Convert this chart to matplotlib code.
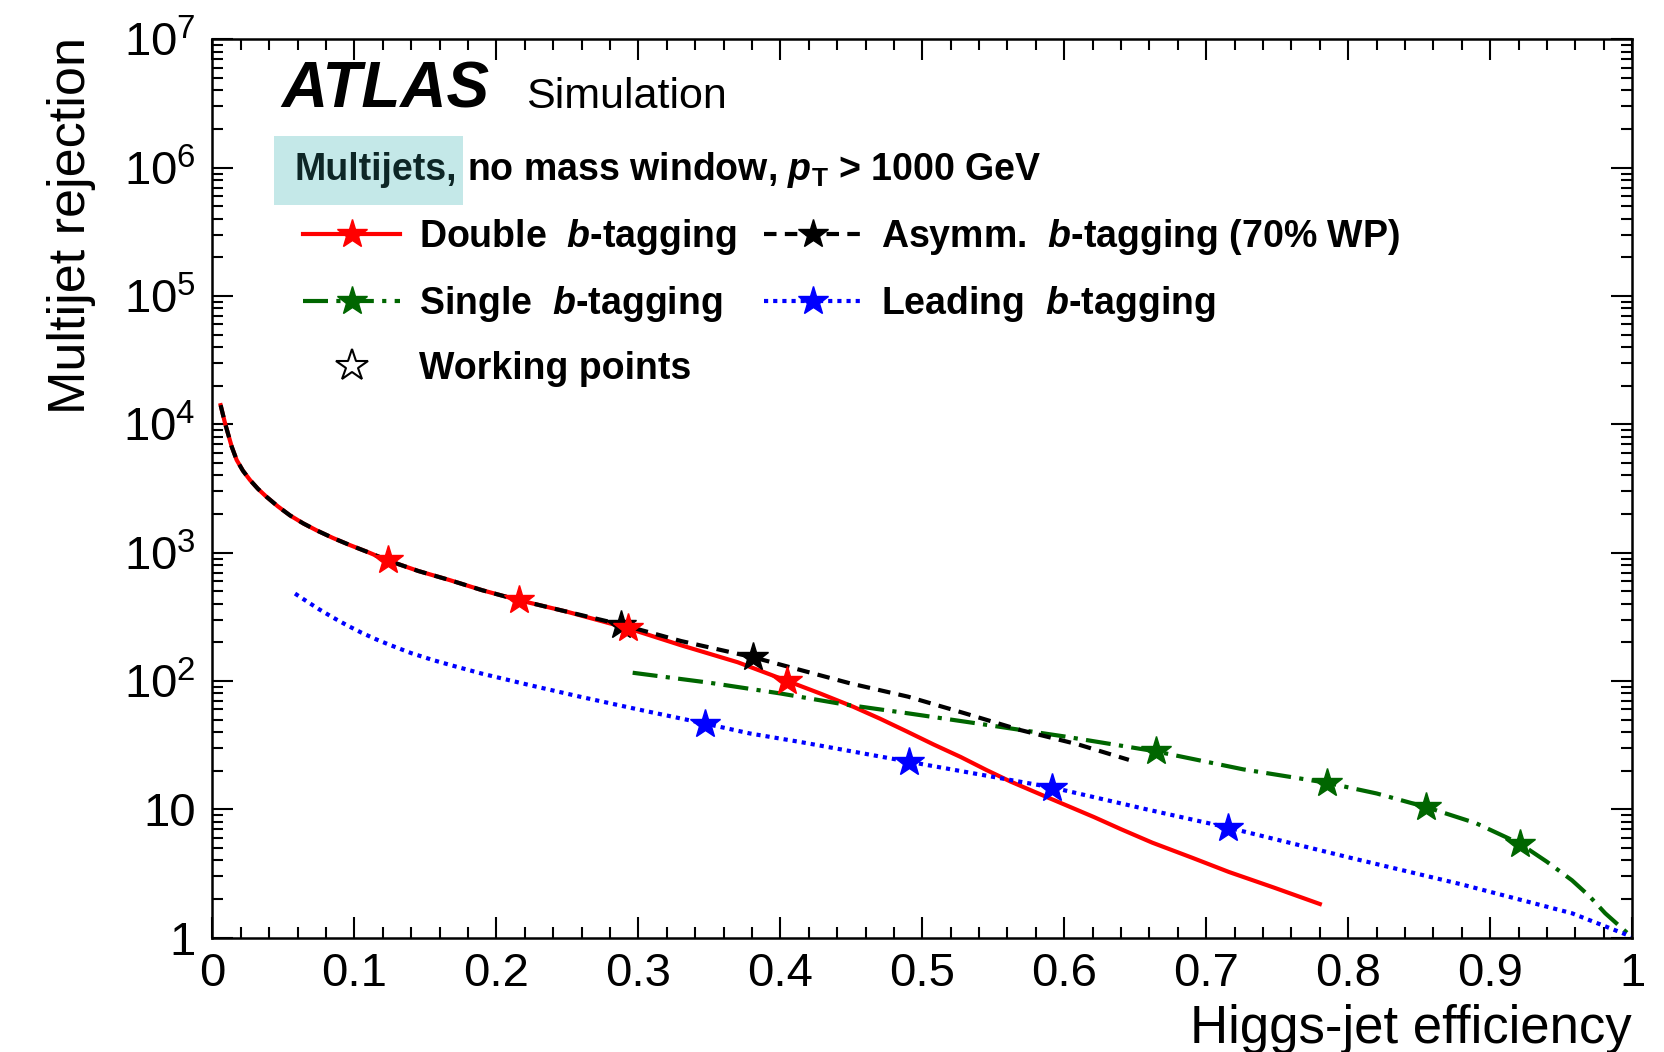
import matplotlib
matplotlib.use('agg')
import matplotlib.pyplot as plt
from matplotlib.lines import Line2D
from matplotlib.patches import Rectangle
from matplotlib.ticker import FixedLocator, MultipleLocator, LogLocator, NullFormatter

plt.rcParams['font.family'] = 'Liberation Sans'
plt.rcParams['mathtext.fontset'] = 'custom'
plt.rcParams['mathtext.rm'] = 'Liberation Sans'
plt.rcParams['mathtext.it'] = 'Liberation Sans:italic'
plt.rcParams['mathtext.bf'] = 'Liberation Sans:bold'
plt.rcParams['mathtext.bfit'] = 'Liberation Sans:italic:bold'

# low-efficiency part, shared by double and asymmetric b-tagging
eff_low = [0.0058, 0.0089, 0.0136, 0.0171, 0.0215, 0.0265, 0.032, 0.038, 0.046, 0.0547,
           0.064, 0.0735, 0.085, 0.0969, 0.11, 0.1235, 0.145, 0.167, 0.19, 0.216,
           0.2496]
rej_low = [14100, 10200, 6700, 5270, 4350, 3680, 3150, 2730, 2300, 1950,
           1690, 1490, 1300, 1145, 1005, 870, 720, 612, 510, 426,
           347]

# double b-tagging
eff_double = eff_low + [0.293, 0.33, 0.37, 0.405, 0.428, 0.4514, 0.47, 0.489, 0.508, 0.527,
                        0.545, 0.562, 0.577, 0.592, 0.621, 0.64, 0.662, 0.69, 0.716, 0.748,
                        0.78]
rej_double = rej_low + [257, 190, 140, 100, 80, 63, 51, 40.5, 32, 25.6,
                        20.3, 16.5, 14, 11.9, 8.7, 7.0, 5.5, 4.2, 3.25, 2.45,
                        1.83]
wp_eff_double = [0.1235, 0.216, 0.293, 0.405]
wp_rej_double = [870, 426, 257, 100]

# asymmetric b-tagging (70% WP)
eff_asymm = eff_low + [0.288, 0.33, 0.381, 0.414, 0.449, 0.49, 0.53, 0.569, 0.61, 0.6455]
rej_asymm = rej_low + [275, 205, 153, 122, 96, 75.5, 56, 41.5, 32, 24.3]
wp_eff_asymm = [0.288, 0.381]
wp_rej_asymm = [275, 153]

# single b-tagging
eff_single = [0.296, 0.35, 0.40, 0.444, 0.49, 0.537, 0.60, 0.6645, 0.726, 0.785,
              0.82, 0.855, 0.89, 0.921, 0.94, 0.9576, 0.97, 0.981, 0.9994]
rej_single = [116, 97, 80, 66, 56, 47, 37, 28.3, 20.5, 16.1,
              13.3, 10.4, 7.8, 5.4, 3.9, 2.8, 2.1, 1.55, 1.02]
wp_eff_single = [0.6645, 0.785, 0.855, 0.921]
wp_rej_single = [28.3, 16.1, 10.4, 5.4]

# leading b-tagging
eff_leading = [0.0582, 0.065, 0.075, 0.085, 0.095, 0.105, 0.115, 0.125, 0.14, 0.155,
               0.17, 0.19, 0.224, 0.26, 0.30, 0.347, 0.3787, 0.414, 0.4905, 0.5916,
               0.658, 0.7156, 0.8013, 0.88, 0.9576, 0.9994]
rej_leading = [480, 428, 363, 312, 271, 238, 212, 191, 165, 146,
               131, 114, 92.6, 75, 60, 46.6, 39, 33.5, 23.5, 14.8,
               10, 7.2, 4.2, 2.6, 1.55, 1.02]
wp_eff_leading = [0.347, 0.4905, 0.5916, 0.7156]
wp_rej_leading = [46.6, 23.5, 14.8, 7.2]

x_ticks = [0, 0.1, 0.2, 0.3, 0.4, 0.5, 0.6, 0.7, 0.8, 0.9, 1]
x_labels = ['0', '0.1', '0.2', '0.3', '0.4', '0.5', '0.6', '0.7', '0.8', '0.9', '1']
y_ticks = [1, 10, 1e2, 1e3, 1e4, 1e5, 1e6, 1e7]
y_labels = ['1', '10', '$10^{2}$', '$10^{3}$', '$10^{4}$', '$10^{5}$', '$10^{6}$', '$10^{7}$']

W, H = 1665, 1052


def fx(px):
    return px / W


def fy(py):
    return 1 - py / H


fig = plt.figure(figsize=(W / 100, H / 100), dpi=100)
ax = fig.add_axes([fx(212.4), fy(937.7), fx(1632.2) - fx(212.4), fy(39.3) - fy(937.7)])

lw = 3
ms = 22
green = '#006600'
ax.plot(eff_double, rej_double, color='red', lw=lw, zorder=2)
ax.plot(eff_asymm, rej_asymm, color='black', lw=lw, dashes=(3, 2), zorder=3)
ax.plot(eff_single, rej_single, color=green, lw=lw, dashes=(6, 2, 1, 2), zorder=2)
ax.plot(eff_leading, rej_leading, color='blue', lw=lw, dashes=(1, 1.2), zorder=2)

ax.plot(wp_eff_asymm, wp_rej_asymm, ls='none', marker='*', ms=ms, color='black', zorder=4)
ax.plot(wp_eff_double, wp_rej_double, ls='none', marker='*', ms=ms, color='red', zorder=5)
ax.plot(wp_eff_single, wp_rej_single, ls='none', marker='*', ms=ms, color=green, zorder=5)
ax.plot(wp_eff_leading, wp_rej_leading, ls='none', marker='*', ms=ms, color='blue', zorder=5)

ax.set_xlim(0, 1)
ax.set_yscale('log')
ax.set_ylim(1, 1e7)

ax.xaxis.set_major_locator(FixedLocator(x_ticks))
ax.set_xticklabels(x_labels)
ax.xaxis.set_minor_locator(MultipleLocator(0.02))
ax.yaxis.set_major_locator(FixedLocator(y_ticks))
ax.set_yticklabels(y_labels)
ax.yaxis.set_minor_locator(LogLocator(base=10, subs=range(2, 10), numticks=20))
ax.yaxis.set_minor_formatter(NullFormatter())

ax.tick_params(which='both', direction='in', top=True, right=True, width=1.5, labelsize=34)
ax.tick_params(which='major', length=15)
ax.tick_params(which='minor', length=8)
ax.tick_params(axis='x', pad=10)
ax.tick_params(axis='y', pad=12)
for s in ax.spines.values():
    s.set_linewidth(1.8)

# axis titles, ROOT style
fig.text(fx(1632), fy(1043), 'Higgs-jet efficiency', fontsize=38, ha='right', va='baseline')
fig.text(fx(85), fy(37), 'Multijet rejection', fontsize=37.5, rotation=90,
         rotation_mode='anchor', ha='right', va='baseline')

fig.text(fx(281), fy(108), 'ATLAS', fontsize=46, weight='bold', style='italic', va='baseline')
fig.text(fx(526), fy(108), 'Simulation', fontsize=31, va='baseline')

fig.add_artist(Rectangle((fx(274), fy(205)), fx(463) - fx(274), fy(136) - fy(205),
                         transform=fig.transFigure, facecolor='#c4e8e8', edgecolor='none', zorder=1))
fig.text(fx(295), fy(180), 'Multijets,', fontsize=27, weight='bold', color='#0d2626', va='baseline')
fig.text(fx(467), fy(180), r'no mass window, $\mathbfit{p}_{\mathbf{T}}$ > 1000 GeV',
         fontsize=27, weight='bold', va='baseline')

handles = [
    Line2D([], [], color='red', lw=lw, marker='*', ms=ms),
    Line2D([], [], color=green, lw=lw, dashes=(6, 2, 1, 2), marker='*', ms=ms),
    Line2D([], [], ls='none', marker='*', ms=ms + 2, mfc='white', mec='black', mew=1.5),
    Line2D([], [], color='black', lw=lw, dashes=(3, 2), marker='*', ms=ms),
    Line2D([], [], color='blue', lw=lw, dashes=(1, 1.2), marker='*', ms=ms),
]
labels = [
    r'Double  $\mathbfit{b}$-tagging',
    r'Single  $\mathbfit{b}$-tagging',
    'Working points',
    r'Asymm.  $\mathbfit{b}$-tagging (70% WP)',
    r'Leading  $\mathbfit{b}$-tagging',
]
ax.legend(handles, labels, ncol=2, loc='upper left', bbox_to_anchor=(fx(303), fy(217)),
          bbox_transform=fig.transFigure, frameon=False, prop={'weight': 'bold', 'size': 27},
          handlelength=2.6, handletextpad=0.5, columnspacing=0.72, labelspacing=0.72,
          borderpad=0, borderaxespad=0, numpoints=1)

fig.savefig('out.png', dpi=100)
